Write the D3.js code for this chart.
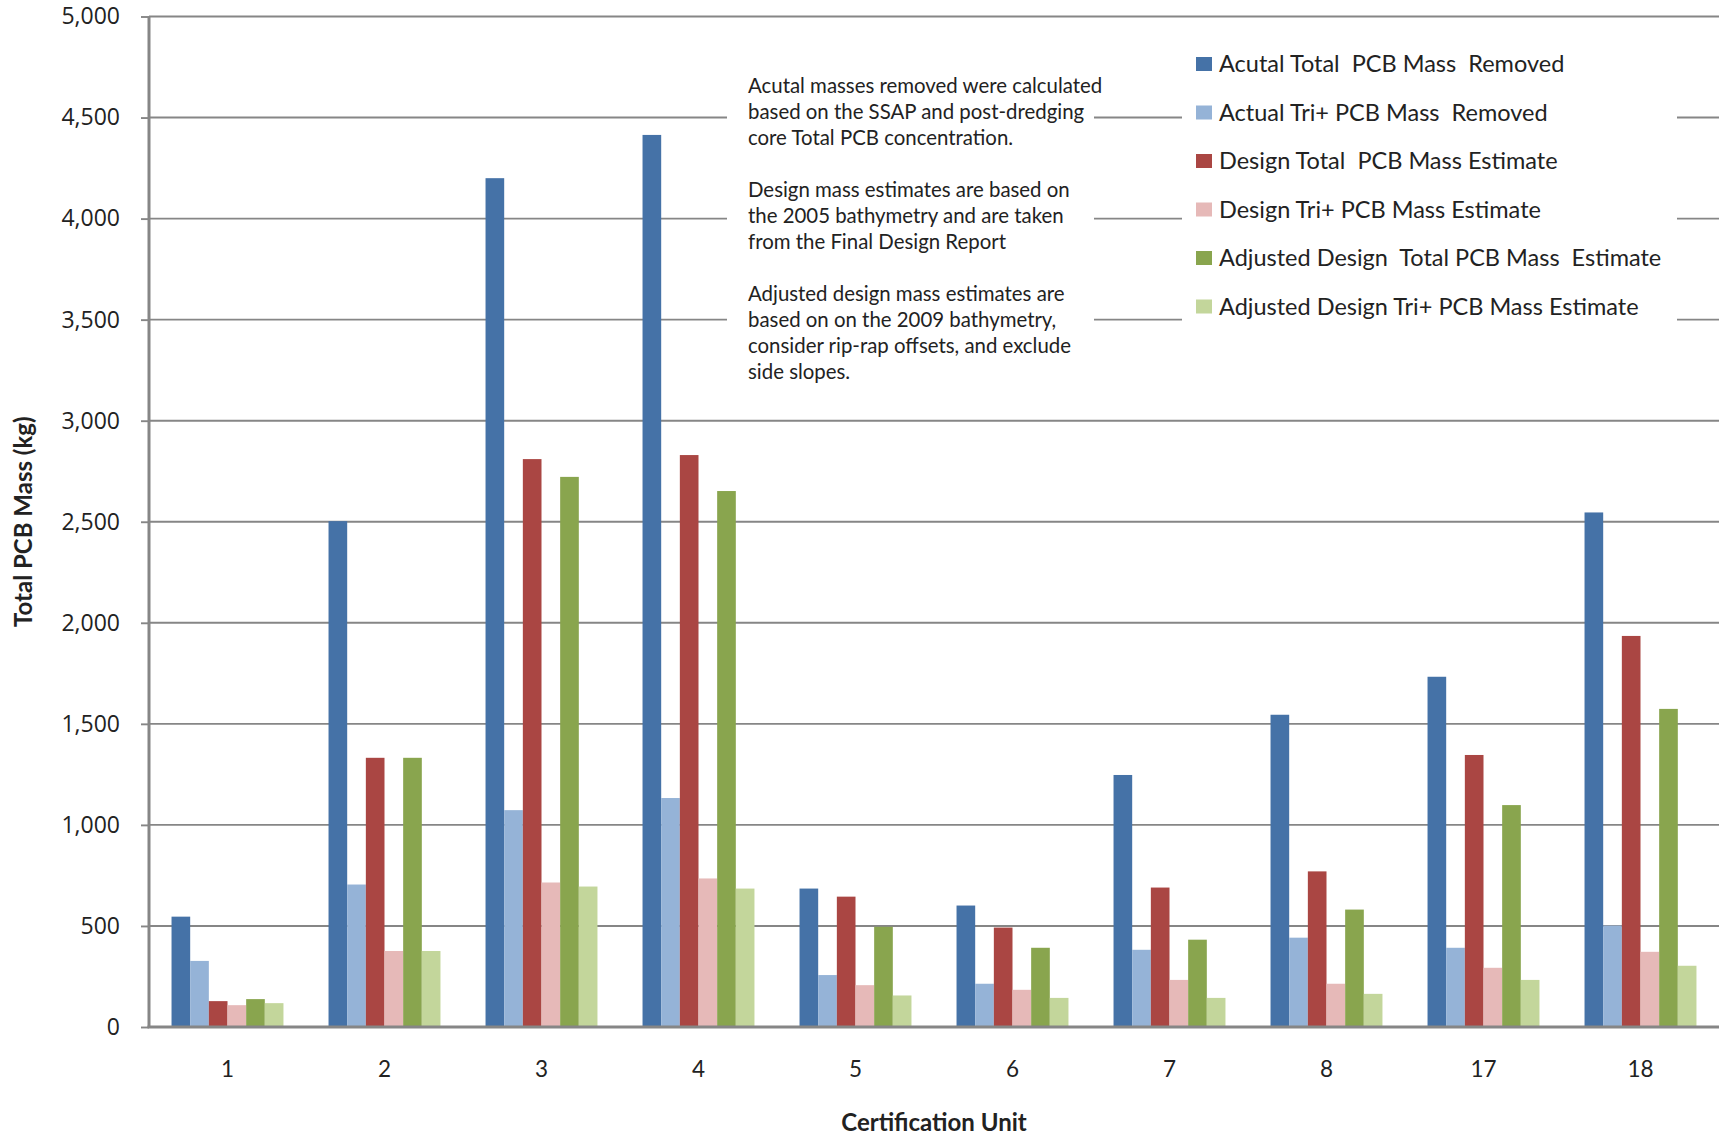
<!DOCTYPE html>
<html>
<head>
<meta charset="utf-8">
<script src="https://cdn.jsdelivr.net/npm/d3@7/dist/d3.min.js"></script>
<style>
  html, body { margin: 0; padding: 0; background: #fff; }
  svg { display: block; }
</style>
</head>
<body>
<svg id="chart" width="1727" height="1143"></svg>
<script>
// ---------------- data ----------------
const categories = ["1", "2", "3", "4", "5", "6", "7", "8", "17", "18"];
const seriesNames = [
  "Acutal Total  PCB Mass  Removed",
  "Actual Tri+ PCB Mass  Removed",
  "Design Total  PCB Mass Estimate",
  "Design Tri+ PCB Mass Estimate",
  "Adjusted Design  Total PCB Mass  Estimate",
  "Adjusted Design Tri+ PCB Mass Estimate"
];
const actualTotal = [546, 2503, 4200, 4414, 685, 601, 1247, 1545, 1733, 2546];
const actualTri   = [327, 705, 1073, 1133, 257, 214, 382, 442, 392, 502];
const designTotal = [128, 1332, 2810, 2830, 645, 492, 690, 770, 1346, 1935];
const designTri   = [108, 376, 715, 735, 207, 184, 233, 214, 293, 372];
const adjTotal    = [138, 1332, 2722, 2652, 496, 392, 432, 581, 1098, 1574];
const adjTri      = [118, 376, 695, 685, 156, 144, 144, 164, 233, 303];
const seriesValues = [actualTotal, actualTri, designTotal, designTri, adjTotal, adjTri];
const seriesColors = ["#4572A7", "#95B3D7", "#AA4643", "#E6B9B8", "#89A54E", "#C3D69B"];
const yTicks = [0, 500, 1000, 1500, 2000, 2500, 3000, 3500, 4000, 4500, 5000];
const noteLines = [
  "Acutal masses removed were calculated",
  "based on the SSAP and post-dredging",
  "core Total PCB concentration.",
  "",
  "Design mass estimates are based on",
  "the 2005 bathymetry and are taken",
  "from the Final Design Report",
  "",
  "Adjusted design mass estimates are",
  "based on on the 2009 bathymetry,",
  "consider rip-rap offsets, and exclude",
  "side slopes."
];
const xTitle = "Certification Unit";
const yTitle = "Total PCB Mass (kg)";

// ---------------- layout ----------------
const svg = d3.select("#chart");
const plot = { left: 149, right: 1719, top: 16.5, bottom: 1027 };
const gridColor = "#868686";
const textColor = "#222222";
const labelFont = "Lato, 'Open Sans', sans-serif";

const x0 = d3.scaleBand()
  .domain(categories)
  .range([plot.left, plot.right])
  .paddingInner(0.287)
  .paddingOuter(0.1435);
const x1 = d3.scaleBand()
  .domain(d3.range(seriesNames.length))
  .range([0, x0.bandwidth()])
  .padding(0);
const y = d3.scaleLinear().domain([0, 5000]).range([plot.bottom, plot.top]);

// gridlines
svg.append("g").selectAll("line")
  .data(yTicks.filter(d => d > 0))
  .join("line")
  .attr("x1", plot.left).attr("x2", plot.right)
  .attr("y1", d => y(d)).attr("y2", d => y(d))
  .attr("stroke", gridColor).attr("stroke-width", 1.9);

// white boxes behind the annotation and legend (they mask the gridlines)
svg.append("rect").attr("x", 727).attr("y", 45).attr("width", 367).attr("height", 350).attr("fill", "#fff");
svg.append("rect").attr("x", 1182).attr("y", 35).attr("width", 495).attr("height", 300).attr("fill", "#fff");

// bars
const groups = svg.append("g").selectAll("g")
  .data(categories)
  .join("g")
  .attr("transform", d => `translate(${x0(d)},0)`);
groups.selectAll("rect")
  .data((c, ci) => seriesValues.map((vals, si) => ({ si, v: vals[ci] })))
  .join("rect")
  .attr("x", d => x1(d.si))
  .attr("width", x1.bandwidth())
  .attr("y", d => y(d.v))
  .attr("height", d => y(0) - y(d.v))
  .attr("fill", d => seriesColors[d.si]);

// y axis
const yAxis = svg.append("g")
  .attr("transform", `translate(${plot.left},0)`)
  .call(d3.axisLeft(y).tickValues(yTicks).tickFormat(d3.format(",")).tickSize(8).tickPadding(21));
yAxis.select(".domain").attr("stroke", gridColor).attr("stroke-width", 3)
  .attr("d", `M0,${plot.top}V${plot.bottom}`);
yAxis.selectAll(".tick line").attr("stroke", gridColor).attr("stroke-width", 1.9);
yAxis.selectAll(".tick text")
  .attr("fill", textColor)
  .style("font-family", "'Open Sans', sans-serif")
  .style("font-size", "23px");

// x axis
const xAxis = svg.append("g")
  .attr("transform", `translate(0,${plot.bottom})`)
  .call(d3.axisBottom(x0).tickSize(0).tickPadding(34));
xAxis.select(".domain").attr("stroke", gridColor).attr("stroke-width", 3)
  .attr("d", `M${plot.left - 1.5},0H${plot.right}`);
xAxis.selectAll(".tick text")
  .attr("fill", textColor)
  .style("font-family", labelFont)
  .style("font-size", "22.5px");

// axis titles
svg.append("text")
  .attr("x", (plot.left + plot.right) / 2)
  .attr("y", 1131)
  .attr("text-anchor", "middle")
  .attr("fill", textColor)
  .style("font-family", labelFont)
  .style("font-weight", "bold")
  .style("font-size", "24px")
  .text(xTitle);
svg.append("text")
  .attr("transform", `translate(32,${(plot.top + plot.bottom) / 2}) rotate(-90)`)
  .attr("text-anchor", "middle")
  .attr("fill", textColor)
  .style("font-family", labelFont)
  .style("font-weight", "bold")
  .style("font-size", "24px")
  .text(yTitle);

// annotation
svg.append("g").selectAll("text")
  .data(noteLines)
  .join("text")
  .attr("x", 748)
  .attr("y", (d, i) => 93 + i * 26)
  .attr("fill", textColor)
  .style("font-family", labelFont)
  .style("font-size", "20.4px")
  .style("white-space", "pre")
  .text(d => d);

// legend
const legend = svg.append("g").selectAll("g")
  .data(seriesNames)
  .join("g")
  .attr("transform", (d, i) => `translate(1196,${64 + i * 48.5})`);
legend.append("rect")
  .attr("x", 0).attr("y", -7).attr("width", 16).attr("height", 14)
  .attr("fill", (d, i) => seriesColors[i]);
legend.append("text")
  .attr("x", 23).attr("y", 8)
  .attr("fill", textColor)
  .style("font-family", labelFont)
  .style("font-size", "23.5px")
  .style("white-space", "pre")
  .text(d => d);
</script>
</body>
</html>
